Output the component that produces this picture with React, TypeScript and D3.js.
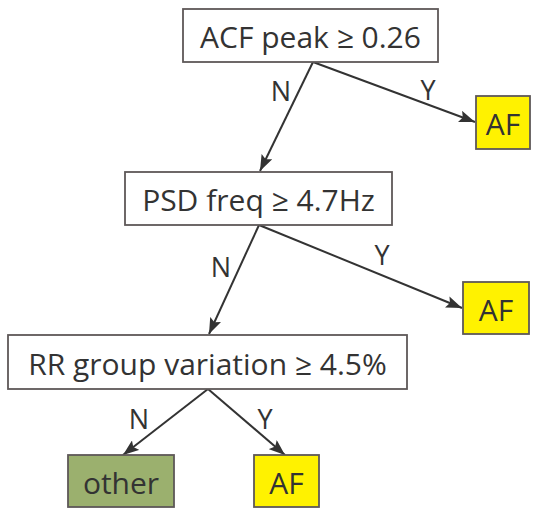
import * as d3 from "d3"
import { useEffect, useRef } from "react"

// decision nodes, top to bottom
const questions = ["ACF peak ≥ 0.26", "PSD freq ≥ 4.7Hz", "RR group variation ≥ 4.5%"]
const leaves = ["AF", "AF", "other", "AF"]

// box geometry [x0, y0, x1, y1]
const questionBoxes = [
  [183, 9, 438, 62],
  [125, 172, 392, 225],
  [8, 335, 407, 389],
]
const leafBoxes = [
  [476, 96, 530, 149],
  [463, 282, 529, 334],
  [68, 455, 174, 507],
  [254, 455, 319, 507],
]
const leafFill: Record<string, string> = { AF: "#fff200", other: "#9bb06e" }

// edges: from point, to point, label, label pos
const edges = [
  { from: [313, 62], to: [260, 171], label: "N", at: [281, 90] },
  { from: [313, 62], to: [475, 122], label: "Y", at: [428, 89] },
  { from: [259, 225], to: [209, 334], label: "N", at: [221, 266] },
  { from: [259, 225], to: [462, 308], label: "Y", at: [382, 254] },
  { from: [208, 389], to: [123, 455], label: "N", at: [139, 418] },
  { from: [208, 389], to: [285, 455], label: "Y", at: [265, 418] },
]

export default function App() {
  const svgRef = useRef<SVGSVGElement>(null)

  useEffect(() => {
    if (!svgRef.current) return
    const svg = d3.select(svgRef.current)
    svg.selectAll("*").remove()

    const font = "'Open Sans', 'Noto Sans', sans-serif"
    const ink = "#333333"

    svg
      .append("defs")
      .append("marker")
      .attr("id", "arr")
      .attr("viewBox", "0 0 16 12")
      .attr("refX", 16)
      .attr("refY", 6)
      .attr("markerWidth", 16)
      .attr("markerHeight", 12)
      .attr("markerUnits", "userSpaceOnUse")
      .attr("orient", "auto")
      .append("path")
      .attr("d", "M0,0 L16,6 L0,12 L3,6 Z")
      .attr("fill", ink)

    // edges
    svg
      .selectAll(".edge")
      .data(edges)
      .enter()
      .append("line")
      .attr("x1", (d) => d.from[0])
      .attr("y1", (d) => d.from[1])
      .attr("x2", (d) => d.to[0])
      .attr("y2", (d) => d.to[1])
      .attr("stroke", ink)
      .attr("stroke-width", 2)
      .attr("marker-end", "url(#arr)")

    svg
      .selectAll(".elabel")
      .data(edges)
      .enter()
      .append("text")
      .attr("x", (d) => d.at[0])
      .attr("y", (d) => d.at[1])
      .attr("text-anchor", "middle")
      .attr("dominant-baseline", "central")
      .style("font-family", font)
      .style("font-size", "27px")
      .attr("fill", ink)
      .text((d) => d.label)

    const drawBox = (b: number[], fill: string, label: string) => {
      svg
        .append("rect")
        .attr("x", b[0])
        .attr("y", b[1])
        .attr("width", b[2] - b[0])
        .attr("height", b[3] - b[1])
        .attr("fill", fill)
        .attr("stroke", "#5e5858")
        .attr("stroke-width", 1.8)
      svg
        .append("text")
        .attr("x", (b[0] + b[2]) / 2)
        .attr("y", (b[1] + b[3]) / 2 + 1)
        .attr("text-anchor", "middle")
        .attr("dominant-baseline", "central")
        .style("font-family", font)
        .style("font-size", "30px")
        .attr("fill", ink)
        .text(label)
    }

    questions.forEach((q, i) => drawBox(questionBoxes[i], "#ffffff", q))
    leaves.forEach((l, i) => drawBox(leafBoxes[i], leafFill[l], l))
  }, [])

  return (
    <svg
      ref={svgRef}
      width={537}
      height={508}
      style={{ position: "absolute", left: 0, top: 0, background: "#fff" }}
    />
  )
}
